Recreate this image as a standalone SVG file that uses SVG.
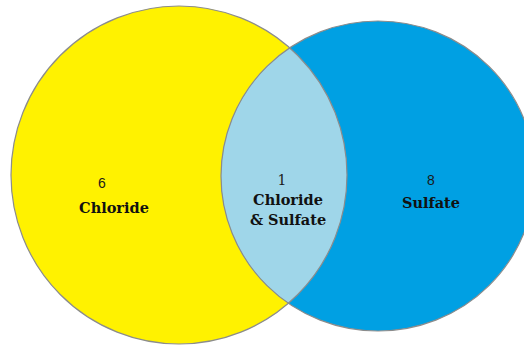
<svg xmlns="http://www.w3.org/2000/svg" width="524" height="346" viewBox="0 0 524 346">
<style>
.edge{fill:none;stroke:#8c8c8c;stroke-width:1.2}
.num{font-family:"Liberation Sans",Arial,sans-serif;font-size:14px;fill:#1a1a1a;text-anchor:middle}
.num1{font-family:"DejaVu Serif","Liberation Serif",serif;font-size:14px;fill:#1a1a1a;text-anchor:middle}
.lbl{font-family:"DejaVu Serif","Liberation Serif",serif;font-weight:bold;font-size:14.5px;fill:#111;text-anchor:middle}
</style>
<defs>
<clipPath id="clipY"><ellipse cx="179" cy="175" rx="168" ry="169"/></clipPath>
</defs>
<rect width="524" height="346" fill="#ffffff"/>
<g id="chloride">
<ellipse cx="179" cy="175" rx="168" ry="169" fill="#fff200"/>
</g>
<g id="sulfate">
<ellipse cx="378" cy="176" rx="157" ry="155" fill="#00a0e3"/>
</g>
<g id="both">
<ellipse cx="378" cy="176" rx="157" ry="155" fill="#9fd6e9" clip-path="url(#clipY)"/>
</g>
<g id="outlines">
<ellipse class="edge" cx="179" cy="175" rx="168" ry="169"/>
<ellipse class="edge" cx="378" cy="176" rx="157" ry="155"/>
</g>
<g id="labels">
<text class="num" x="102" y="188">6</text>
<text class="lbl" x="114" y="213">Chloride</text>
<text class="num1" x="282" y="185">1</text>
<text class="lbl" x="288" y="205">Chloride</text>
<text class="lbl" x="288" y="225">&amp; Sulfate</text>
<text class="num" x="431" y="185">8</text>
<text class="lbl" x="431" y="208">Sulfate</text>
</g>
</svg>
